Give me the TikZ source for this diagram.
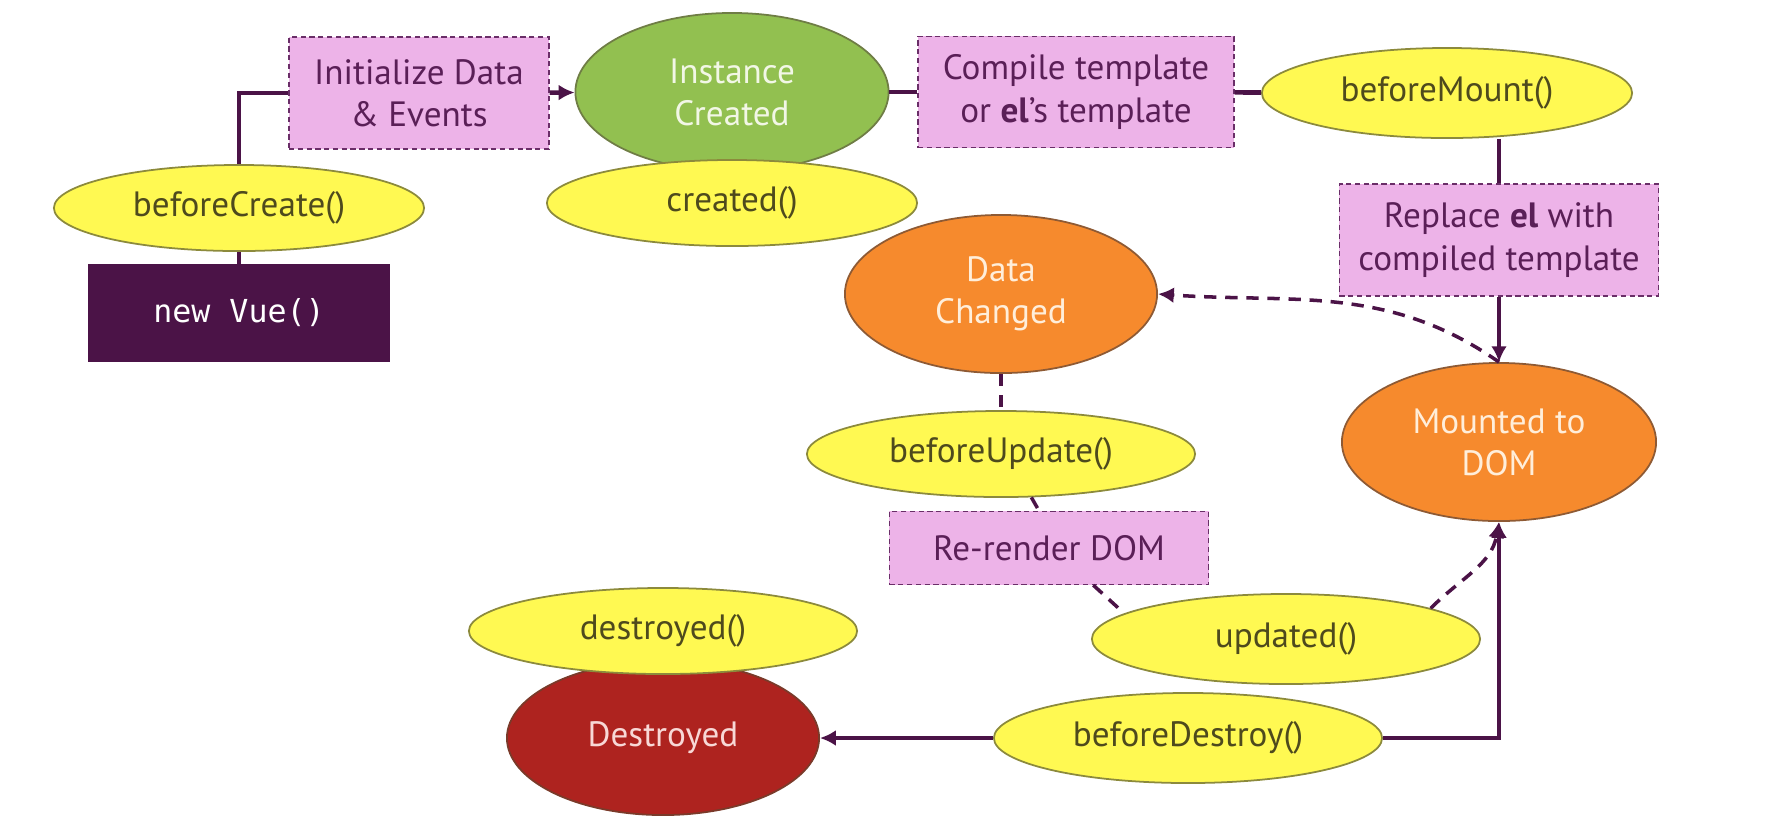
\documentclass[tikz,border=0pt]{standalone}
\usepackage{fontspec}
\setmainfont{PT Sans}
\newfontfamily\vuemono{DejaVu Sans Mono}
\usepackage{xcolor}
\usetikzlibrary{arrows.meta,shapes.geometric}
\definecolor{vuepurple}{HTML}{4B1347}
\definecolor{hookfill}{HTML}{FFF952}
\definecolor{hookline}{HTML}{8C8A3C}
\definecolor{hooktext}{HTML}{4E4A1D}
\definecolor{stagefill}{HTML}{EDB3E8}
\definecolor{stageline}{HTML}{6A2E68}
\definecolor{stagetext}{HTML}{5A1F57}
\definecolor{instfill}{HTML}{92C050}
\definecolor{instline}{HTML}{6F7D45}
\definecolor{insttext}{HTML}{F2F7E6}
\definecolor{mountfill}{HTML}{F68A2D}
\definecolor{mountline}{HTML}{8E5A34}
\definecolor{mounttext}{HTML}{FFEEDA}
\definecolor{deadfill}{HTML}{AE231F}
\definecolor{deadline}{HTML}{7A3A2A}
\definecolor{deadtext}{HTML}{F8D8D6}
\tikzset{
    hookcall/.style={ellipse,draw=hookline,line width=0.5pt,fill=hookfill,text=hooktext,
        inner sep=0pt,minimum width=3.7cm,minimum height=0.86cm},
    stagebox/.style={rectangle,draw=stageline,dash pattern=on 1.5pt off 1pt,line width=0.35pt,fill=stagefill,
        text=stagetext,align=center,inner sep=0pt},
    phase/.style={ellipse,line width=0.5pt,inner sep=0pt,align=center,
        minimum width=3.13cm,minimum height=1.58cm},
    flow/.style={draw=vuepurple,line width=1.3pt},
    flowarrow/.style={flow,-{Latex[length=4.5pt,width=4.5pt]}},
    dashflow/.style={draw=vuepurple,line width=1pt,dash pattern=on 3.5pt off 2.5pt}
}

\begin{document}
\begin{tikzpicture}[x=0.01cm,y=0.01cm,font=\fontsize{10}{12}\selectfont]
    \useasboundingbox (0,0) rectangle (1766,-832);
    % creation
    \node[rectangle,fill=vuepurple,text=white,minimum width=3.01cm,minimum height=0.97cm,
        font=\vuemono\fontsize{9}{11}\selectfont] (newvue) at (239,-313) {new Vue()};
    \node[hookcall] (beforecreate) at (239,-208) {beforeCreate()};
    \node[stagebox,minimum width=2.6cm,minimum height=1.12cm] (init) at (419,-93) {Initialize Data\\\& Events};
    \node[phase,fill=instfill,draw=instline,text=insttext] (instance) at (732,-92) {Instance\\Created};
    \node[hookcall] (created) at (732,-203) {created()};
    % mounting
    \node[stagebox,minimum width=3.16cm,minimum height=1.11cm] (compile) at (1076,-92) {Compile template\\or \textbf{el}’s template};
    \node[hookcall,minimum height=0.9cm] (beforemount) at (1447,-93) {beforeMount()};
    \node[stagebox,minimum width=3.19cm,minimum height=1.12cm] (replace) at (1499,-240) {Replace \textbf{el} with\\compiled template};
    \node[phase,fill=mountfill,draw=mountline,text=mounttext,minimum width=3.14cm] (mounted) at (1499,-442) {Mounted to\\DOM};
    % updating
    \node[phase,fill=mountfill,draw=mountline,text=mounttext,minimum width=3.12cm] (changed) at (1001,-294) {Data\\Changed};
    \node[hookcall,minimum width=3.88cm] (beforeupdate) at (1001,-454) {beforeUpdate()};
    \node[stagebox,minimum width=3.19cm,minimum height=0.73cm] (rerender) at (1049,-548) {Re-render DOM};
    \node[hookcall,minimum width=3.88cm,minimum height=0.9cm] (updated) at (1286,-639) {updated()};
    % destruction
    \node[phase,fill=deadfill,draw=deadline,text=deadtext,minimum width=3.12cm,minimum height=1.54cm] (destroyedstate) at (663,-738) {Destroyed};
    \node[hookcall,minimum width=3.88cm] (destroyed) at (663,-631) {destroyed()};
    \node[hookcall,minimum width=3.88cm,minimum height=0.9cm] (beforedestroy) at (1188,-738) {beforeDestroy()};

    \draw[flow] (newvue) -- (beforecreate);
    \draw[flow] (beforecreate) |- (init);
    \draw[flowarrow] (init) -- (instance);
    \draw[flow] (instance) -- (compile);
    \draw[flow] (compile) -- (beforemount);
    \draw[flow] (beforemount.south -| replace.north) -- (replace);
    \draw[flowarrow] (replace) -- (mounted);
    \draw[flowarrow] (beforedestroy) -| (mounted);
    \draw[flowarrow] (beforedestroy) -- (destroyedstate);

    \draw[dashflow,-{Latex[length=4.5pt,width=4.5pt]}] (mounted.north) to[out=145,in=-4] (changed.east);
    \draw[dashflow] (changed) -- (beforeupdate);
    \draw[dashflow] (beforeupdate.-55) -- (rerender.105);
    \draw[dashflow] (rerender.-40) -- (updated.171);
    \draw[dashflow,-{Latex[length=4.5pt,width=4.5pt]}] (updated.12) to[out=45,in=-100] (mounted.south);
\end{tikzpicture}
\end{document}
